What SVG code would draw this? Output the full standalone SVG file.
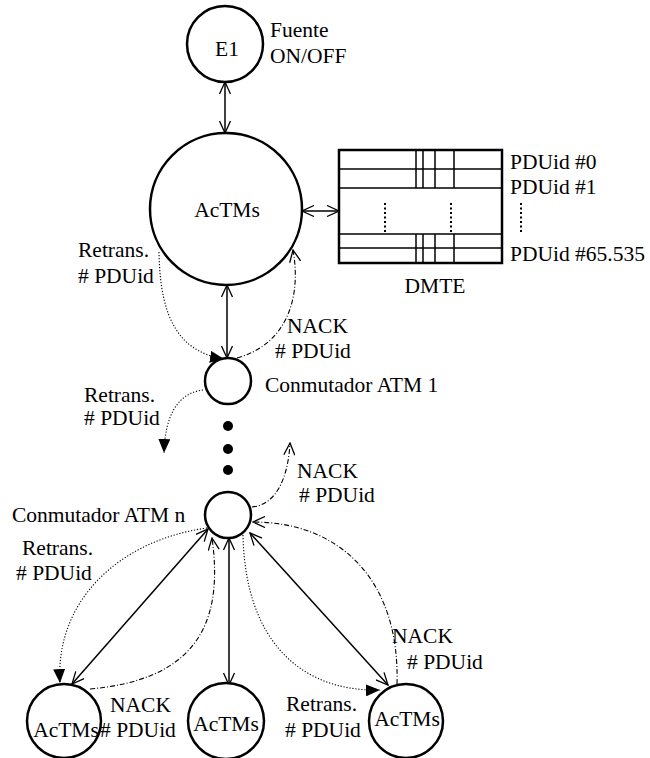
<svg xmlns="http://www.w3.org/2000/svg" width="650" height="758" viewBox="0 0 650 758" font-family="Times New Roman, Liberation Serif, Times, serif">
<style>
text{font-family:"Times New Roman","Liberation Serif",Times,serif;font-size:21.5px;fill:#000}
.node{fill:#fff;stroke:#000;stroke-width:2.5}
.solid{fill:none;stroke:#000;stroke-width:1.5}
.dot{fill:none;stroke:#000;stroke-width:1.1;stroke-dasharray:1.2 1.8}
.dd{fill:none;stroke:#000;stroke-width:1.1;stroke-dasharray:5 2 1 2}
.tl{stroke:#000;stroke-width:1.5}
</style>
<defs>
<marker id="open" viewBox="0 0 14 12" refX="13" refY="6" markerWidth="14" markerHeight="12" orient="auto-start-reverse" markerUnits="userSpaceOnUse">
<path d="M1,0.5 L13,6 L1,11.5" fill="none" stroke="#000" stroke-width="1.3"/>
</marker>
<marker id="fill" viewBox="0 0 14 12" refX="14" refY="6" markerWidth="14" markerHeight="12" orient="auto" markerUnits="userSpaceOnUse">
<path d="M0,0 L14,6 L0,12 z" fill="#000"/>
</marker>
</defs>

<g id="connectors">
<path class="solid" d="M225,82 L225,133" marker-start="url(#open)" marker-end="url(#open)"/>
<path class="solid" d="M302,211 L339,211" marker-start="url(#open)" marker-end="url(#open)"/>
<path class="solid" d="M227,285 L227,358" marker-start="url(#open)" marker-end="url(#open)"/>
<path class="solid" d="M208,529 L72,684" marker-start="url(#open)" marker-end="url(#open)"/>
<path class="solid" d="M229,538 L229,685" marker-start="url(#open)" marker-end="url(#open)"/>
<path class="solid" d="M250,533 L388,685" marker-start="url(#open)" marker-end="url(#open)"/>

<path class="dot" d="M159,252 C160,320 180,352 224,359" marker-end="url(#fill)"/>
<path class="dd" d="M237,358 C285,345 302,300 293,250" marker-end="url(#open)"/>
<path class="dot" d="M203,390 C178,393 165,415 164,453" marker-end="url(#fill)"/>
<path class="dd" d="M252,507 C275,505 288,480 290,443" marker-end="url(#open)"/>
<path class="dot" d="M207,528 C120,540 55,600 60,683" marker-end="url(#fill)"/>
<path class="dd" d="M90,689 C190,680 225,630 212,538" marker-end="url(#open)"/>
<path class="dot" d="M243,535 C245,640 300,692 380,690" marker-end="url(#fill)"/>
<path class="dd" d="M397,684 C400,580 340,522 253,522" marker-end="url(#open)"/>
</g>

<g id="E1">
<circle class="node" cx="225" cy="44" r="38"/>
<text x="227" y="56" text-anchor="middle">E1</text>
<text x="270" y="37">Fuente</text>
<text x="270" y="63">ON/OFF</text>
</g>

<g id="AcTMs-top">
<circle class="node" cx="226" cy="209" r="76"/>
<text x="227" y="217" text-anchor="middle">AcTMs</text>
<text x="78" y="257">Retrans.</text>
<text x="78" y="283"># PDUid</text>
<text x="287" y="333">NACK</text>
<text x="275" y="358"># PDUid</text>
</g>

<g id="DMTE">
<rect x="339" y="150" width="163" height="113" fill="#fff" stroke="#000" stroke-width="2.5"/>
<line class="tl" x1="339" y1="169" x2="502" y2="169"/>
<line class="tl" x1="339" y1="188" x2="502" y2="188"/>
<line class="tl" x1="339" y1="234" x2="502" y2="234"/>
<line class="tl" x1="339" y1="248" x2="502" y2="248"/>
<line class="tl" x1="416" y1="150" x2="416" y2="188"/>
<line class="tl" x1="423" y1="150" x2="423" y2="188"/>
<line class="tl" x1="435" y1="150" x2="435" y2="188"/>
<line class="tl" x1="454" y1="150" x2="454" y2="188"/>
<line class="tl" x1="416" y1="234" x2="416" y2="263"/>
<line class="tl" x1="423" y1="234" x2="423" y2="263"/>
<line class="tl" x1="435" y1="234" x2="435" y2="263"/>
<line class="tl" x1="454" y1="234" x2="454" y2="263"/>
<line x1="385" y1="203" x2="385" y2="232" stroke="#000" stroke-width="2" stroke-dasharray="2 2.5"/>
<line x1="451" y1="203" x2="451" y2="232" stroke="#000" stroke-width="2" stroke-dasharray="2 2.5"/>
<line x1="521" y1="203" x2="521" y2="232" stroke="#000" stroke-width="2" stroke-dasharray="2 2.5"/>
<text x="510" y="169">PDUid #0</text>
<text x="510" y="194">PDUid #1</text>
<text x="510" y="261">PDUid #65.535</text>
<text x="435" y="293" text-anchor="middle">DMTE</text>
</g>

<g id="switch1">
<circle class="node" cx="228" cy="381" r="23"/>
<text x="265" y="392">Conmutador ATM 1</text>
<text x="84" y="402">Retrans.</text>
<text x="84" y="425"># PDUid</text>
</g>

<g id="ellipsis">
<circle cx="228" cy="426" r="5" fill="#000"/>
<circle cx="228" cy="449" r="5" fill="#000"/>
<circle cx="228" cy="470" r="5" fill="#000"/>
</g>

<g id="switchn">
<circle class="node" cx="228" cy="515" r="23"/>
<text x="12" y="522">Conmutador ATM n</text>
<text x="297" y="478">NACK</text>
<text x="299" y="502"># PDUid</text>
<text x="22" y="555">Retrans.</text>
<text x="16" y="580"># PDUid</text>
</g>

<g id="AcTMs-left">
<circle class="node" cx="64" cy="721" r="37"/>
<text x="66" y="737" text-anchor="middle">AcTMs</text>
<text x="110" y="712">NACK</text>
<text x="100" y="737"># PDUid</text>
</g>

<g id="AcTMs-mid">
<circle class="node" cx="226" cy="721" r="38"/>
<text x="226" y="731" text-anchor="middle">AcTMs</text>
</g>

<g id="AcTMs-right">
<circle class="node" cx="406" cy="721" r="37"/>
<text x="407" y="726" text-anchor="middle">AcTMs</text>
<text x="286" y="711">Retrans.</text>
<text x="285" y="737"># PDUid</text>
<text x="392" y="643">NACK</text>
<text x="407" y="669"># PDUid</text>
</g>
</svg>
